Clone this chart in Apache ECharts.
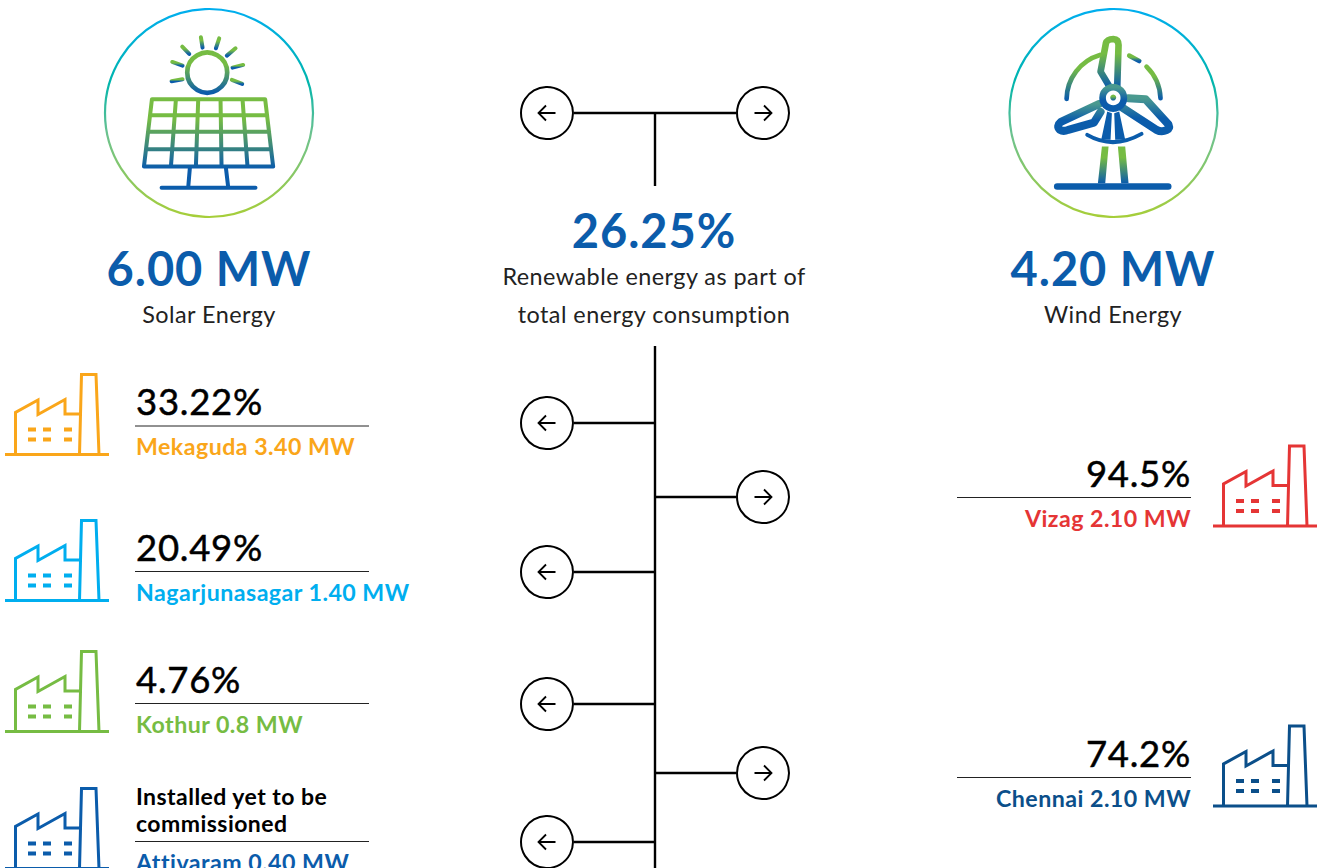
<!DOCTYPE html>
<html>
<head>
<meta charset="utf-8">
<title>Renewable energy</title>
<script src="https://cdn.jsdelivr.net/npm/echarts@6/dist/echarts.min.js"></script>
<style>
html, body { margin: 0; padding: 0; background: #fff; overflow: hidden; }
#main { width: 1324px; height: 868px; }
#main text { font-variant-ligatures: none; letter-spacing: 0.02em; }
</style>
</head>
<body>
<div id="main"></div>
<script>
var solarTotal = '6.00 MW';
var windTotal = '4.20 MW';
var renewableShare = '26.25%';
var solarName = 'Solar Energy';
var windName = 'Wind Energy';
var shareCaption = ['Renewable energy as part of', 'total energy consumption'];

var solarSites = ['Mekaguda', 'Nagarjunasagar', 'Kothur', 'Attivaram'];
var solarCapacity = ['3.40 MW', '1.40 MW', '0.8 MW', '0.40 MW'];
var solarShares = ['33.22%', '20.49%', '4.76%', null];
var solarNote = ['Installed yet to be', 'commissioned'];

var windSites = ['Vizag', 'Chennai'];
var windCapacity = ['2.10 MW', '2.10 MW'];
var windShares = ['94.5%', '74.2%'];

// layout, separate from the values above
var BLUE = '#0b5cab', GREEN = '#76bc43';
var solarColors = ['#faa61a', '#00aeef', '#76bc43', '#0b5cab'];
var windColors = ['#e53535', '#0b4f8a'];
var solarRuleY = [426, 571.5, 703.5, 841.5];
var solarIconBase = [454.5, 600.5, 731.5, 868.5];
var windRuleY = [497.5, 777.5];
var windIconBase = [526, 806];
var leftArrowY = [423, 572, 704, 842];
var rightArrowY = [497, 773];
var FONT = 'Lato, sans-serif';

function grad(stops) {
    return { type: 'linear', x: 0, y: 0, x2: 0, y2: 1, colorStops: stops };
}
var iconGrad = grad([{ offset: 0, color: GREEN }, { offset: 0.3, color: GREEN }, { offset: 1, color: BLUE }]);
var panelGrad = grad([{ offset: 0, color: GREEN }, { offset: 0.22, color: GREEN }, { offset: 0.78, color: BLUE }, { offset: 1, color: BLUE }]);
var bladeGrad = grad([{ offset: 0, color: '#4a9a8f' }, { offset: 0.6, color: BLUE }, { offset: 1, color: BLUE }]);
var ringGrad = grad([
    { offset: 0, color: '#00aeef' }, { offset: 0.35, color: '#00b5ad' }, { offset: 0.6, color: '#6cc28f' }, { offset: 1, color: '#a6ce39' }
]);

var els = [];

function text(str, x, y, font, fill, align, bold) {
    els.push({ type: 'text', style: { text: str, x: x, y: y, font: font, fill: fill, textAlign: align || 'left', textVerticalAlign: 'middle', stroke: bold ? fill : null, lineWidth: bold || 0 } });
}
function line(x1, y1, x2, y2, w, color) {
    els.push({ type: 'line', shape: { x1: x1, y1: y1, x2: x2, y2: y2 }, style: { stroke: color || '#000', lineWidth: w } });
}
function circleBtn(cx, cy, dir) {
    els.push({ type: 'circle', shape: { cx: cx, cy: cy, r: 26 }, style: { fill: '#fff', stroke: '#000', lineWidth: 2 } });
    els.push({
        type: 'path',
        shape: { pathData: 'M' + (cx - 8.5 * dir) + ' ' + cy + 'L' + (cx + 8.5 * dir) + ' ' + cy + 'M' + (cx + 1 * dir) + ' ' + (cy - 7.5) + 'L' + (cx + 8.5 * dir) + ' ' + cy + 'L' + (cx + 1 * dir) + ' ' + (cy + 7.5) },
        style: { fill: 'none', stroke: '#000', lineWidth: 1.8 }
    });
}
function factory(x, base, color) {
    var y = base - 94;
    els.push({
        type: 'group', x: x, y: y,
        children: [
            { type: 'path', shape: { pathData: 'M0 94H104M10.5 94V52L33 39.5V54L60 39V53.5H75M74.5 94L76.5 14H91L94 94' },
              style: { fill: 'none', stroke: color, lineWidth: 3 } },
            { type: 'path', shape: { pathData: 'M23 67h8v4h-8zM38 67h8v4h-8zM59 67h8v4h-8zM23 77h8v4h-8zM38 77h8v4h-8zM59 77h8v4h-8z' },
              style: { fill: color } }
        ]
    });
}
function stroked(d, w, paint) {
    return { type: 'path', shape: { pathData: d }, style: { fill: 'none', stroke: paint || iconGrad, lineWidth: w, lineCap: 'round', lineJoin: 'round' } };
}

// big rings
els.push({ type: 'circle', shape: { cx: 209, cy: 113, r: 104 }, style: { fill: 'none', stroke: ringGrad, lineWidth: 2.2 } });
els.push({ type: 'circle', shape: { cx: 1113.5, cy: 113, r: 104 }, style: { fill: 'none', stroke: ringGrad, lineWidth: 2.2 } });

// solar icon, drawn in 3x coordinates
var rays = [[333, 112, 338, 143], [388, 115, 378, 145], [437, 145, 411, 167], [460, 195, 428, 203], [457, 252, 426, 240], [278, 238, 245, 244], [278, 197, 247, 186], [298, 162, 277, 140]];
var solarKids = [
    { type: 'circle', shape: { cx: 352, cy: 218, r: 60 }, style: { fill: 'none', stroke: iconGrad, lineWidth: 14 } },
    stroked('M186 298H526L550 500H162ZM180 346H532M174 396H538M168 448H544M258 298L243 500M325 298L318 500M392 298L395 500M458 298L473 500M300 503L295 562M408 503L415 562M215 564H497', 12, panelGrad)
];
rays.forEach(function (r) {
    solarKids.push(stroked('M' + r[0] + ' ' + r[1] + 'L' + r[2] + ' ' + r[3], 12));
});
els.push({ type: 'group', x: 90, y: 0, scaleX: 1 / 3, scaleY: 1 / 3, children: solarKids });

// wind icon, drawn in 3x coordinates
els.push({
    type: 'group', x: 1000, y: 0, scaleX: 1 / 3, scaleY: 1 / 3,
    children: [
        stroked('M330 262L302 215L318 130Q322 117 340 117Q356 118 356 135L352 262', 20),
        stroked('M298 312L183 366Q168 378 180 390Q190 396 205 390L282 368L302 336', 24, bladeGrad),
        stroked('M385 295L437 298L506 374Q511 386 500 391Q485 398 470 390L365 322', 24, bladeGrad),
        { type: 'circle', shape: { cx: 340, cy: 294, r: 32 }, style: { fill: '#fff', stroke: bladeGrad, lineWidth: 20 } },
        { type: 'circle', shape: { cx: 340, cy: 293, r: 9 }, style: { fill: iconGrad } },
        stroked('M200 297A140 140 0 0 1 300 165', 14),
        stroked('M482 295A140 140 0 0 0 440 200', 14),
        stroked('M388 167L418 183', 14),
        { type: 'path', shape: { pathData: 'M322 335L304 420H332L336 340ZM358 335L376 420H346L343 340Z' }, style: { fill: BLUE } },
        stroked('M262 405Q340 450 425 402', 12, BLUE),
        { type: 'path', shape: { pathData: 'M306 440H326L316 550H294ZM354 440H376L386 550H364Z' }, style: { fill: iconGrad } },
        { type: 'path', shape: { pathData: 'M172 560H505' }, style: { fill: 'none', stroke: BLUE, lineWidth: 20, lineCap: 'round' } }
    ]
});

// centre lines
line(574, 113, 736, 113, 2.4);
line(655, 113, 655, 186, 2.4);
line(655, 346, 655, 868, 2.4);
circleBtn(547, 113, -1);
circleBtn(763, 113, 1);
leftArrowY.forEach(function (y) {
    line(574, y, 655, y, 2.4);
    circleBtn(547, y, -1);
});
rightArrowY.forEach(function (y) {
    line(655, y, 736, y, 2.4);
    circleBtn(763, y, 1);
});

// headings
text(solarTotal, 209, 267.5, '700 47px ' + FONT, BLUE, 'center');
text(windTotal, 1113, 267.5, '700 47px ' + FONT, BLUE, 'center');
text(renewableShare, 654, 230, '700 47px ' + FONT, BLUE, 'center');
text(solarName, 209, 314, '400 23.4px ' + FONT, '#222', 'center');
text(windName, 1113, 314, '400 23.4px ' + FONT, '#222', 'center');
text(shareCaption[0], 654, 276, '400 23.4px ' + FONT, '#222', 'center');
text(shareCaption[1], 654, 314, '400 23.4px ' + FONT, '#222', 'center');

// solar rows
solarSites.forEach(function (name, i) {
    var y = solarRuleY[i];
    factory(5, solarIconBase[i], solarColors[i]);
    line(135, y, 369, y, 1, '#222');
    if (solarShares[i]) {
        text(solarShares[i], 136, y - 25, '400 36.5px ' + FONT, '#000', 'left', 0.5);
    } else {
        text(solarNote[0], 136, y - 46, '700 23px ' + FONT, '#000');
        text(solarNote[1], 136, y - 19, '700 23px ' + FONT, '#000');
    }
    text(name + ' ' + solarCapacity[i], 136, y + 20, '700 23.2px ' + FONT, solarColors[i]);
});

// wind rows
windSites.forEach(function (name, i) {
    var y = windRuleY[i];
    factory(1213, windIconBase[i], windColors[i]);
    line(957, y, 1191, y, 1, '#222');
    text(windShares[i], 1191, y - 25, '400 36.5px ' + FONT, '#000', 'right', 0.5);
    text(name + ' ' + windCapacity[i], 1191, y + 20, '700 23.2px ' + FONT, windColors[i], 'right');
});

var chart = echarts.init(document.getElementById('main'), null, { renderer: 'svg' });
chart.setOption({
    animation: false,
    backgroundColor: '#fff',
    series: [{
        type: 'custom',
        coordinateSystem: 'none',
        silent: true,
        clip: false,
        data: [[0]],
        renderItem: function () {
            return { type: 'group', children: els };
        }
    }]
});
</script>
</body>
</html>
